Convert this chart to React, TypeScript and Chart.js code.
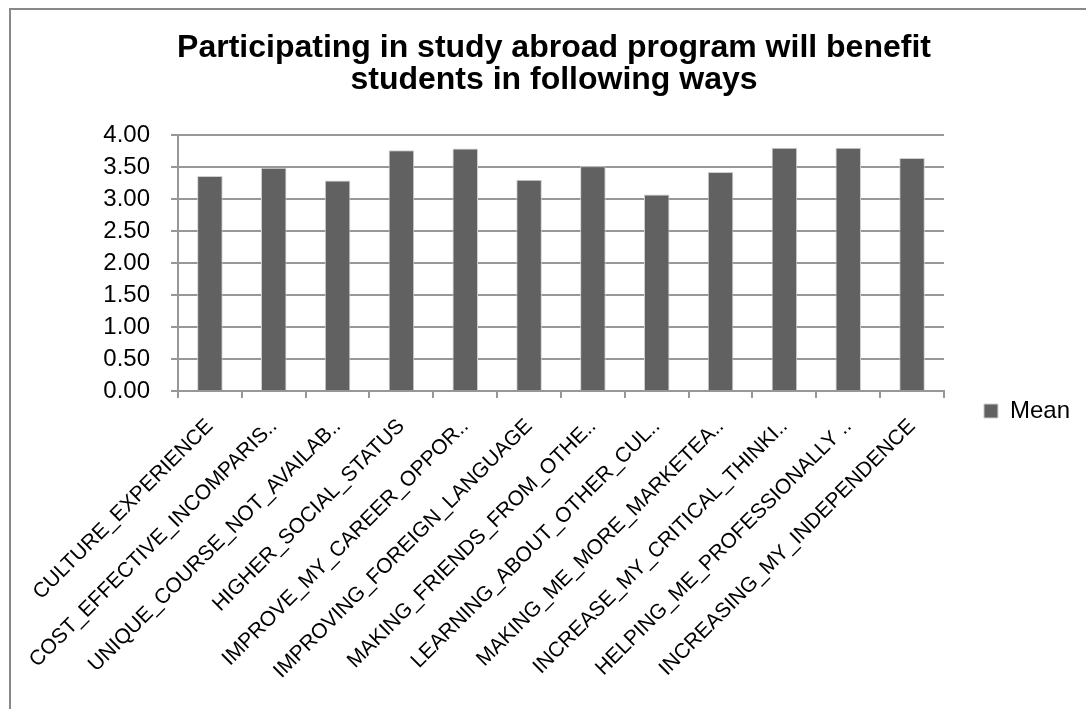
import React, { useEffect, useRef } from "react";
import { Chart, registerables } from "chart.js";

Chart.register(...registerables);

const categories: string[] = [
  "CULTURE_EXPERIENCE",
  "COST_EFFECTIVE_INCOMPARIS..",
  "UNIQUE_COURSE_NOT_AVAILAB..",
  "HIGHER_SOCIAL_STATUS",
  "IMPROVE_MY_CAREER_OPPOR..",
  "IMPROVING_FOREIGN_LANGUAGE",
  "MAKING_FRIENDS_FROM_OTHE..",
  "LEARNING_ABOUT_OTHER_CUL..",
  "MAKING_ME_MORE_MARKETEA..",
  "INCREASE_MY_CRITICAL_THINKI..",
  "HELPING_ME_PROFESSIONALLY ..",
  "INCREASING_MY_INDEPENDENCE",
];

const meanValues: number[] = [3.36, 3.49, 3.29, 3.76, 3.79, 3.3, 3.51, 3.07, 3.42, 3.8, 3.8, 3.64];

const titleLines: string[] = [
  "Participating in study abroad program will benefit",
  "students in following ways",
];

const seriesName = "Mean";

const FONT = "Arial, 'Liberation Sans', sans-serif";
const GRID = "#979797";

// Outer chart frame (left and top edges)
const framePlugin = {
  id: "frame",
  beforeDraw(chart: any) {
    const { ctx, width, height } = chart;
    ctx.save();
    ctx.strokeStyle = "#888888";
    ctx.lineWidth = 2;
    ctx.beginPath();
    ctx.moveTo(10, height);
    ctx.lineTo(10, 9);
    ctx.lineTo(width, 9);
    ctx.stroke();
    ctx.restore();
  },
};

export default function App() {
  const canvasRef = useRef<HTMLCanvasElement | null>(null);

  useEffect(() => {
    if (!canvasRef.current) return;
    const chart = new Chart(canvasRef.current, {
      type: "bar",
      data: {
        labels: categories,
        datasets: [
          {
            label: seriesName,
            data: meanValues,
            backgroundColor: "#616161",
            borderColor: "#cfcfcf",
            borderWidth: 1,
            barPercentage: 0.4,
            categoryPercentage: 1,
          },
        ],
      },
      options: {
        responsive: false,
        animation: false,
        layout: { padding: { left: 28, right: 6, top: 0, bottom: 0 } },
        plugins: {
          title: {
            display: true,
            text: titleLines,
            color: "#000",
            font: { family: FONT, size: 32, weight: "bold", lineHeight: 1.0 },
            padding: { top: 32, bottom: 39 },
          },
          legend: {
            display: true,
            position: "right",
            align: "start",
            title: {
              display: true,
              text: "",
              font: { size: 10, lineHeight: 1 },
              padding: { top: 349, bottom: 0 },
            },
            labels: {
              color: "#000",
              font: { family: FONT, size: 24 },
              boxWidth: 14,
              boxHeight: 14,
              padding: 40,
            },
          },
          tooltip: { enabled: false },
        },
        scales: {
          x: {
            afterFit: (scale: any) => {
              scale.height = 318;
            },
            grid: {
              display: true,
              drawOnChartArea: false,
              drawTicks: true,
              tickLength: 7,
              color: GRID,
              lineWidth: 2,
              offset: true,
            },
            border: { display: true, color: GRID, width: 2 },
            ticks: {
              autoSkip: false,
              maxRotation: 45,
              minRotation: 45,
              padding: 16,
              color: "#000",
              font: { family: FONT, size: 21 },
            },
          },
          y: {
            min: 0,
            max: 4,
            afterFit: (scale: any) => {
              scale.width = 150;
            },
            grid: {
              color: GRID,
              lineWidth: 2,
              tickLength: 7,
              drawTicks: true,
            },
            border: { display: true, color: GRID, width: 2 },
            ticks: {
              stepSize: 0.5,
              padding: 21,
              color: "#000",
              font: { family: FONT, size: 24 },
              callback: (v: any) => Number(v).toFixed(2),
            },
          },
        },
      },
      plugins: [framePlugin],
    });
    return () => chart.destroy();
  }, []);

  return (
    <div style={{ position: "absolute", left: 0, top: 0, width: 1086, height: 709, background: "#fff", overflow: "hidden" }}>
      <canvas ref={canvasRef} width={1086} height={709} />
    </div>
  );
}
